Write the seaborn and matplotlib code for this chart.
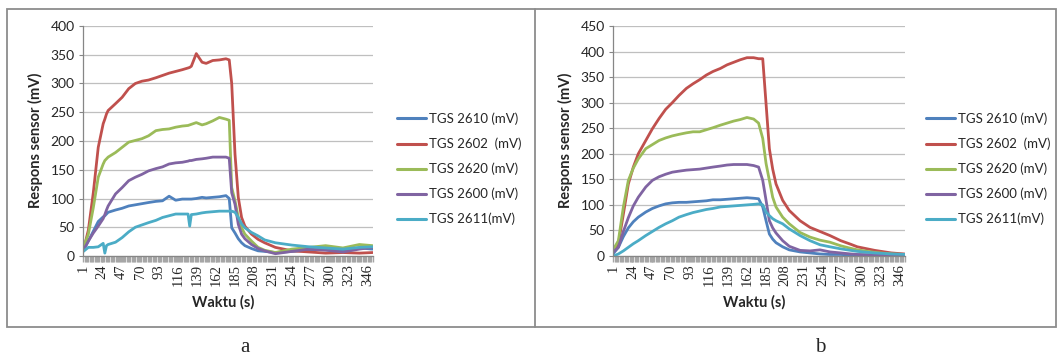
import numpy as np
import pandas as pd
import matplotlib.pyplot as plt
import seaborn as sns
from matplotlib.patches import Rectangle
from matplotlib.lines import Line2D

# ---------- DATA ----------
SENSORS = ["TGS 2610 (mV)", "TGS 2602  (mV)", "TGS 2620 (mV)", "TGS 2600 (mV)", "TGS 2611(mV)"]
COLORS = ["#4F81BD", "#C0504D", "#9BBB59", "#8064A2", "#4BACC6"]
N_CAT = 352
XTICKS = list(range(1, 347, 23))

# panel a
t_a = [1, 7, 13, 19, 25, 27, 29, 31, 40, 48, 56, 64, 72, 80, 89, 97, 105, 113, 121, 128, 130, 132,
       138, 145, 150, 158, 166, 174, 178, 181, 185, 189, 193, 197, 205, 213, 221, 234, 254, 275,
       295, 316, 336, 352]
a_2610 = [10, 26, 43, 60, 68, 70, 73, 76, 80, 83, 87, 89, 91, 93, 95, 96, 104, 97, 99, 99, 99, 99,
          100, 102, 101, 102, 103, 105, 100, 49, 40, 30, 23, 18, 13, 9, 8, 6, 8, 10,
          12, 10, 14, 12]
a_2602 = [10, 45, 110, 189, 230, 238, 247, 253, 265, 276, 291, 300, 304, 306, 310, 314, 318, 321, 324, 327, 328, 330,
          352, 337, 335, 340, 341, 343, 341, 300, 177, 102, 67, 52, 38, 29, 23, 15, 9, 7,
          5, 6, 5, 6]
a_2620 = [15, 38, 84, 137, 160, 166, 169, 172, 180, 189, 198, 201, 204, 209, 218, 220, 221, 224, 226, 227, 228, 229,
          232, 228, 230, 235, 241, 238, 236, 119, 96, 67, 49, 38, 26, 15, 10, 6, 12, 15,
          18, 14, 20, 18]
a_2600 = [10, 26, 40, 52, 65, 72, 80, 87, 108, 119, 131, 137, 142, 148, 152, 155, 160, 162, 163, 165, 166, 166,
          168, 169, 170, 172, 172, 172, 170, 110, 90, 55, 38, 30, 20, 13, 9, 4, 8, 12,
          10, 7, 12, 15]
a_2611 = [8, 15, 15, 16, 22, 5, 18, 20, 24, 32, 42, 50, 54, 58, 62, 67, 70, 73, 73, 73, 52, 72,
          73, 75, 76, 77, 78, 78, 78, 78, 76, 67, 56, 49, 41, 35, 28, 23, 19, 16,
          14, 12, 15, 16]

# panel b
t_b = [1, 7, 13, 19, 25, 31, 40, 48, 56, 64, 72, 80, 89, 97, 105, 113, 121, 130, 138, 146, 154,
       162, 170, 176, 181, 185, 189, 193, 197, 205, 213, 226, 238, 250, 262, 275, 287, 295, 316,
       336, 352]
b_2610 = [5, 17, 38, 55, 67, 76, 86, 93, 98, 102, 104, 105, 105, 106, 107, 108, 110, 110, 111, 112, 113,
          114, 113, 112, 96, 69, 43, 33, 26, 18, 12, 8, 6, 4, 3, 3, 2, 2, 2,
          2, 2]
b_2602 = [10, 24, 82, 141, 174, 200, 226, 249, 269, 287, 300, 314, 328, 337, 345, 354, 361, 367, 374, 379, 384,
          388, 388, 386, 386, 298, 210, 170, 141, 109, 89, 69, 56, 48, 40, 30, 23, 18, 11,
          6, 4]
b_2620 = [13, 30, 96, 148, 172, 190, 210, 218, 226, 231, 235, 238, 241, 243, 243, 247, 251, 256, 260, 264, 267,
          271, 268, 260, 230, 181, 148, 115, 96, 76, 63, 46, 37, 31, 27, 20, 15, 12, 7,
          4, 3]
b_2600 = [8, 17, 48, 75, 98, 115, 135, 148, 155, 160, 164, 166, 168, 169, 170, 172, 174, 176, 178, 179, 179,
          179, 177, 174, 148, 109, 69, 55, 45, 30, 19, 11, 10, 12, 8, 6, 4, 3, 2,
          2, 2]
b_2611 = [0, 4, 10, 17, 24, 30, 40, 48, 56, 63, 69, 76, 81, 85, 88, 91, 93, 96, 97, 98, 99,
          100, 101, 102, 100, 86, 79, 73, 69, 63, 53, 40, 30, 22, 18, 14, 11, 9, 6,
          4, 3]
# ---------------------------------------------------

sns.set_style("white")
plt.rcParams['font.family'] = ['Lato', 'DejaVu Sans']

W, H = 1059, 358


def long_frame(t, series):
    rows = []
    for name, vals in zip(SENSORS, series):
        rows.append(pd.DataFrame({"t": t, "mV": vals, "sensor": name}))
    return pd.concat(rows, ignore_index=True)


def draw_panel(fig, rect, t, series, ymax, label_x):
    ax = fig.add_axes(rect)
    df = long_frame(t, series)
    sns.lineplot(data=df, x="t", y="mV", hue="sensor", hue_order=SENSORS,
                 palette=COLORS, estimator=None, lw=2.0, legend=False, ax=ax)
    ax.set_xlim(0.5, N_CAT + 0.5)
    ax.set_ylim(0, ymax)
    ax.set_yticks(np.arange(0, ymax + 1, 50))
    ax.set_xticks(XTICKS)
    ax.set_xticklabels([str(v) for v in XTICKS], rotation=90,
                       fontfamily='Liberation Serif', fontsize=10.5)
    ax.set_xticks(np.arange(1, N_CAT + 1, 1.5), minor=True)
    ax.tick_params(axis='x', which='both', bottom=True, direction='out', length=4,
                   width=1.0, color='#a6a6a6', pad=2)
    ax.tick_params(axis='y', left=True, direction='out', length=3, width=0.8,
                   color='#868686', labelsize=10, pad=3)
    ax.grid(axis='y', color='#bfbfbf', lw=0.9)
    ax.set_axisbelow(True)
    for s in ['top', 'right']:
        ax.spines[s].set_visible(False)
    for s in ['left', 'bottom']:
        ax.spines[s].set_color('#868686')
        ax.spines[s].set_linewidth(0.9)
    ax.set_xlabel("")
    ax.set_ylabel("")
    # axis titles
    x0 = rect[0] + rect[2] / 2
    fig.text(x0 - 0.005, (H - 302) / H, "Waktu (s)", ha='center', va='center',
             fontsize=10.5, fontweight='bold')
    fig.text(label_x / W, (H - 140) / H, "Respons sensor (mV)", rotation=90,
             ha='center', va='center', fontsize=10.5, fontweight='bold')
    return ax


fig = plt.figure(figsize=(W / 100, H / 100), dpi=100)

ax_a = draw_panel(fig, [83 / W, (H - 256) / H, 290 / W, 230 / H], t_a,
                  [a_2610, a_2602, a_2620, a_2600, a_2611], 400, 35)
ax_b = draw_panel(fig, [613 / W, (H - 256) / H, 292 / W, 230 / H], t_b,
                  [b_2610, b_2602, b_2620, b_2600, b_2611], 450, 565)

handles = [Line2D([0], [0], color=c, lw=2.2) for c in COLORS]
for lx in [397, 926]:
    fig.legend(handles, SENSORS, loc='center left', bbox_to_anchor=(lx / W, (H - 169) / H),
               frameon=False, fontsize=9.5, handlelength=2.2, handletextpad=0.25,
               labelspacing=0.95, borderpad=0, borderaxespad=0)

# panel frames
fig.patches.append(Rectangle((7 / W, (H - 327) / H), (1056 - 7) / W, (327 - 9) / H,
                             transform=fig.transFigure, fill=False, ec='#8c8c8c', lw=1.3))
fig.lines.append(Line2D([535 / W, 535 / W], [(H - 327) / H, (H - 9) / H],
                        transform=fig.transFigure, color='#8c8c8c', lw=1.3))

fig.text(245 / W, (H - 347) / H, "a", ha='center', va='center',
         fontfamily='Liberation Serif', fontsize=15)
fig.text(820 / W, (H - 347) / H, "b", ha='center', va='center',
         fontfamily='Liberation Serif', fontsize=15)

fig.savefig("out.png", dpi=100)
